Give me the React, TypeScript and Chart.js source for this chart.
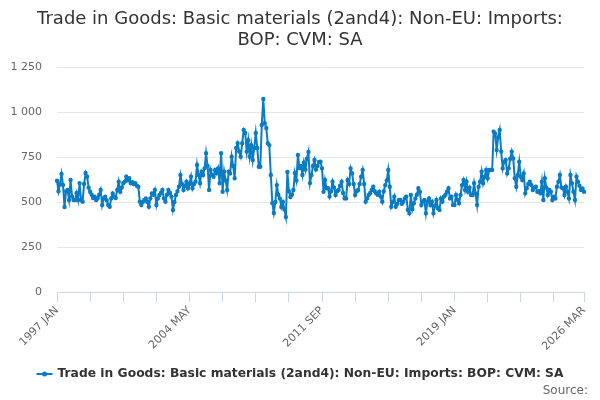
import React, { useEffect, useRef } from "react";
import { Chart, registerables } from "chart.js";

Chart.register(...registerables);

const TITLE_LINES = [
  "Trade in Goods: Basic materials (2and4): Non-EU: Imports:",
  "BOP: CVM: SA",
];
const SERIES_NAME = "Trade in Goods: Basic materials (2and4): Non-EU: Imports: BOP: CVM: SA";
const SOURCE_TEXT = "Source:";
const MONTHS = ["JAN", "FEB", "MAR", "APR", "MAY", "JUN", "JUL", "AUG", "SEP", "OCT", "NOV", "DEC"];
const START_YEAR = 1997;
const Y_TICKS = [0, 250, 500, 750, 1000, 1250];

const v1997 = [618, 560, 600, 656, 594, 472, 560, 567, 511, 622, 530, 511];
const v1998 = [511, 550, 511, 605, 511, 502, 600, 661, 640, 580, 557, 540];
const v1999 = [522, 530, 511, 520, 540, 567, 483, 520, 530, 510, 483, 474];
const v2000 = [520, 548, 530, 522, 567, 613, 557, 580, 604, 613, 641, 620];
const v2001 = [632, 604, 610, 600, 604, 590, 585, 502, 483, 500, 511, 520];
const v2002 = [500, 474, 520, 548, 540, 567, 483, 520, 539, 550, 567, 520];
const v2003 = [502, 540, 567, 550, 530, 456, 500, 539, 560, 585, 650, 600];
const v2004 = [567, 590, 613, 576, 600, 641, 576, 600, 613, 706, 650, 604];
const v2005 = [669, 650, 687, 771, 700, 567, 678, 650, 640, 678, 660, 687];
const v2006 = [604, 771, 557, 669, 620, 567, 669, 659, 752, 700, 632, 800];
const v2007 = [826, 780, 752, 826, 900, 883, 780, 844, 752, 816, 733, 800];
const v2008 = [883, 800, 696, 696, 928, 1072, 938, 911, 826, 816, 650, 494];
const v2009 = [439, 500, 594, 540, 520, 472, 500, 460, 417, 667, 560, 528];
const v2010 = [540, 567, 661, 620, 761, 689, 700, 650, 720, 680, 740, 778];
const v2011 = [605, 650, 700, 733, 680, 700, 722, 724, 687, 557, 622, 576];
const v2012 = [576, 530, 560, 613, 580, 539, 560, 567, 590, 613, 550, 520];
const v2013 = [520, 622, 600, 687, 659, 600, 539, 560, 567, 600, 640, 678];
const v2014 = [600, 502, 520, 539, 550, 567, 585, 560, 548, 540, 557, 530];
const v2015 = [502, 560, 594, 620, 678, 585, 474, 500, 530, 474, 490, 511];
const v2016 = [511, 490, 502, 520, 530, 456, 437, 539, 460, 493, 520, 540];
const v2017 = [576, 557, 483, 502, 511, 437, 502, 520, 483, 502, 437, 480];
const v2018 = [511, 465, 456, 520, 502, 530, 540, 557, 576, 520, 530, 483];
const v2019 = [483, 539, 511, 493, 539, 594, 622, 567, 613, 557, 580, 539];
const v2020 = [539, 604, 548, 483, 585, 613, 669, 604, 640, 678, 632, 678];
const v2021 = [678, 678, 891, 881, 789, 860, 900, 780, 687, 724, 733, 659];
const v2022 = [687, 740, 780, 742, 632, 585, 650, 724, 640, 622, 659, 548];
const v2023 = [576, 600, 613, 594, 567, 580, 585, 557, 560, 548, 613, 511];
const v2024 = [632, 580, 539, 567, 557, 511, 530, 520, 585, 613, 650, 580];
const v2025 = [576, 539, 585, 557, 520, 650, 604, 557, 511, 641, 613, 590];
const v2026 = [567, 575, 557];

const YEARLY = [
  v1997, v1998, v1999, v2000, v2001, v2002, v2003, v2004, v2005, v2006,
  v2007, v2008, v2009, v2010, v2011, v2012, v2013, v2014, v2015, v2016,
  v2017, v2018, v2019, v2020, v2021, v2022, v2023, v2024, v2025, v2026,
];

const VALUES: number[] = YEARLY.flat();
const LABELS: string[] = [];
YEARLY.forEach((arr, yi) => {
  arr.forEach((_, mi) => LABELS.push(`${START_YEAR + yi} ${MONTHS[mi]}`));
});

const LINE_COLOR = "#0a7cc4";
const FONT = "'DejaVu Sans', Verdana, sans-serif";

function fmt(v: number) {
  return String(v).replace(/\B(?=(\d{3})+(?!\d))/g, " ");
}

export default function App() {
  const ref = useRef<HTMLCanvasElement | null>(null);

  useEffect(() => {
    document.body.style.margin = "0";
    if (!ref.current) return;
    const last = LABELS.length - 1;

    const decor = {
      id: "decor",
      afterDraw(chart: any) {
        const ctx = chart.ctx as CanvasRenderingContext2D;
        ctx.save();
        ctx.fillStyle = "#333333";
        ctx.font = `18px ${FONT}`;
        ctx.textAlign = "center";
        ctx.textBaseline = "alphabetic";
        ctx.fillText(TITLE_LINES[0], 300, 24);
        ctx.fillText(TITLE_LINES[1], 300, 45);

        // legend
        ctx.font = `bold 12.3px ${FONT}`;
        const tw = ctx.measureText(SERIES_NAME).width;
        const total = 16 + 5 + tw;
        const x0 = 300 - total / 2;
        const ly = 374;
        ctx.strokeStyle = LINE_COLOR;
        ctx.lineWidth = 2;
        ctx.beginPath();
        ctx.moveTo(x0, ly);
        ctx.lineTo(x0 + 16, ly);
        ctx.stroke();
        ctx.fillStyle = LINE_COLOR;
        ctx.beginPath();
        ctx.arc(x0 + 8, ly, 2.5, 0, Math.PI * 2);
        ctx.fill();
        ctx.fillStyle = "#333333";
        ctx.textAlign = "left";
        ctx.textBaseline = "middle";
        ctx.fillText(SERIES_NAME, x0 + 21, ly);

        // source
        ctx.font = `12px ${FONT}`;
        ctx.fillStyle = "#666666";
        ctx.textAlign = "right";
        ctx.textBaseline = "alphabetic";
        ctx.fillText(SOURCE_TEXT, 588, 394);
        ctx.restore();
      },
    };

    const chart = new Chart(ref.current, {
      type: "line",
      data: {
        labels: LABELS,
        datasets: [
          {
            label: SERIES_NAME,
            data: VALUES,
            borderColor: LINE_COLOR,
            backgroundColor: LINE_COLOR,
            borderWidth: 2,
            pointRadius: 1.2,
            pointHoverRadius: 3,
            tension: 0,
          },
        ],
      },
      options: {
        animation: false,
        responsive: false,
        maintainAspectRatio: false,
        layout: { padding: { top: 67, right: 16, left: 0, bottom: 0 } },
        plugins: {
          legend: { display: false },
          title: { display: false },
          tooltip: { enabled: false },
        },
        scales: {
          x: {
            type: "category",
            offset: false,
            afterBuildTicks(scale: any) {
              scale.ticks = scale.ticks.filter(
                (t: any) => t.value % 22 === 0 || t.value === last
              );
            },
            afterFit(scale: any) {
              scale.height = 108;
            },
            grid: {
              display: true,
              drawOnChartArea: false,
              drawTicks: true,
              tickLength: 10,
              color: "#ccd6eb",
            },
            border: { display: true, color: "#ccd6eb", width: 1 },
            ticks: {
              autoSkip: false,
              minRotation: 45,
              maxRotation: 45,
              padding: 2,
              color: "#666666",
              font: { family: FONT, size: 11 },
              callback(value: any) {
                const i = Number(value);
                if (i % 88 === 0 || i === last) return LABELS[i];
                return "";
              },
            },
          },
          y: {
            min: 0,
            max: 1250,
            afterBuildTicks(scale: any) {
              scale.ticks = Y_TICKS.map((v) => ({ value: v }));
            },
            afterFit(scale: any) {
              scale.width = 57;
            },
            grid: {
              color: "#e6e6e6",
              drawTicks: false,
            },
            border: { display: false },
            ticks: {
              padding: 15,
              color: "#666666",
              font: { family: FONT, size: 11 },
              callback(value: any) {
                return fmt(Number(value));
              },
            },
          },
        },
      },
      plugins: [decor],
    });

    return () => chart.destroy();
  }, []);

  return (
    <div style={{ position: "absolute", left: 0, top: 0, width: 600, height: 400 }}>
      <canvas ref={ref} width={600} height={400} style={{ width: 600, height: 400 }} />
    </div>
  );
}
